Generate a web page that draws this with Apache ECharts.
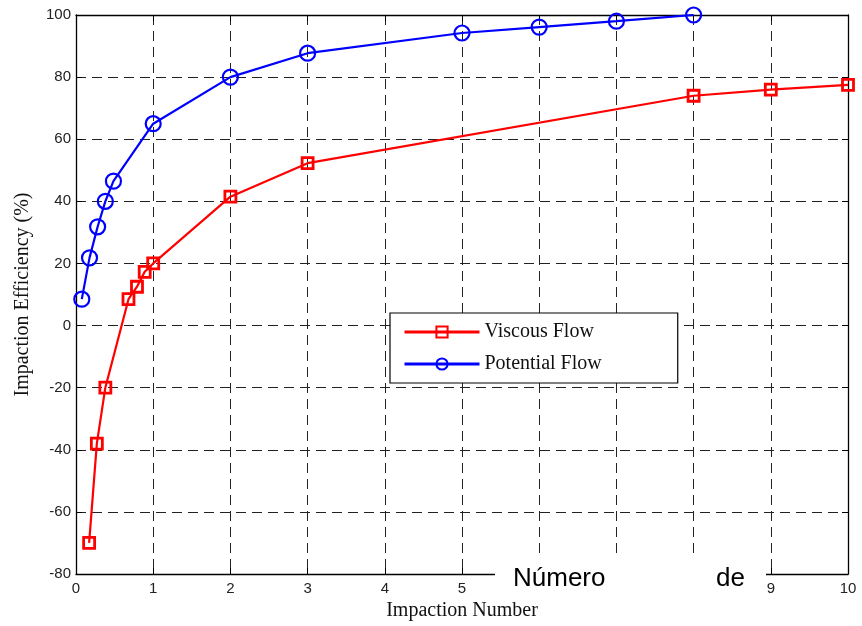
<!DOCTYPE html>
<html>
<head>
<meta charset="utf-8">
<script src="https://cdn.jsdelivr.net/npm/echarts@6/dist/echarts.min.js"></script>
<style>html,body{margin:0;padding:0;background:#fff;}#c{width:862px;height:626px;}</style>
</head>
<body>
<div id="c"></div>
<script>
var viscousX = [0.17, 0.27, 0.38, 0.68, 0.79, 0.89, 1, 2, 3, 8, 9, 10];
var viscousY = [-70, -38, -20, 8.5, 12.5, 17.3, 20, 41.5, 52.3, 74, 76, 77.5];
var potentialX = [0.075, 0.175, 0.28, 0.38, 0.485, 1, 2, 3, 5, 6, 7, 8];
var potentialY = [8.5, 21.8, 31.8, 40, 46.5, 65, 80, 87.7, 94.2, 96.1, 98, 100];
var seriesNames = ['Viscous Flow', 'Potential Flow'];
var xName = 'Impaction Number';
var yName = 'Impaction Efficiency (%)';
var overlayWords = ['Número', 'de'];

function pairs(xs, ys) { return xs.map(function (x, i) { return [x, ys[i]]; }); }

var chart = echarts.init(document.getElementById('c'), null, { renderer: 'canvas' });
var tickFont = { fontFamily: 'Liberation Sans', fontSize: 15, color: '#222' };
var grid = { type: [10, 6], color: '#222', width: 1 };
chart.setOption({
  animation: false,
  backgroundColor: '#fff',
  grid: { left: 76, right: 14, top: 15, bottom: 51, show: false },
  xAxis: [{
    type: 'value', min: 0, max: 10, interval: 1,
    name: xName, nameLocation: 'middle', nameGap: 27,
    nameTextStyle: { fontFamily: 'Liberation Serif', fontSize: 20, color: '#111' },
    axisLine: { show: true, onZero: false, lineStyle: { color: '#000', width: 1.3 } },
    axisTick: { show: true, inside: true, length: 6, lineStyle: { color: '#000' } },
    axisLabel: Object.assign({ margin: 7 }, tickFont),
    splitLine: { show: true, lineStyle: grid }
  }, {
    type: 'value', min: 0, max: 10, interval: 1, position: 'top',
    axisLine: { show: true, onZero: false, lineStyle: { color: '#000', width: 1.3 } },
    axisTick: { show: true, inside: true, length: 6, lineStyle: { color: '#000' } },
    axisLabel: { show: false }, splitLine: { show: false }
  }],
  yAxis: [{
    type: 'value', min: -80, max: 100, interval: 20,
    name: yName, nameLocation: 'middle', nameGap: 43,
    nameTextStyle: { fontFamily: 'Liberation Serif', fontSize: 20, color: '#111' },
    axisLine: { show: true, onZero: false, lineStyle: { color: '#000', width: 1.3 } },
    axisTick: { show: true, inside: true, length: 6, lineStyle: { color: '#000' } },
    axisLabel: Object.assign({ margin: 5 }, tickFont),
    splitLine: { show: true, lineStyle: grid }
  }, {
    type: 'value', min: -80, max: 100, interval: 20, position: 'right',
    axisLine: { show: true, onZero: false, lineStyle: { color: '#000', width: 1.3 } },
    axisTick: { show: true, inside: true, length: 6, lineStyle: { color: '#000' } },
    axisLabel: { show: false }, splitLine: { show: false }
  }],
  legend: {
    orient: 'vertical', left: 390, top: 313,
    itemWidth: 75, itemHeight: 14, itemGap: 12, itemTextGap: 8,
    padding: [9, 76, 9, 13],
    backgroundColor: '#fff', borderColor: '#000', borderWidth: 1.2, borderRadius: 0,
    lineStyle: { width: 3 },
    textStyle: { fontFamily: 'Liberation Serif', fontSize: 20, color: '#111' },
    data: seriesNames
  },
  series: [{
    name: seriesNames[0], type: 'line', data: pairs(viscousX, viscousY),
    symbol: 'rect', symbolSize: 11, showAllSymbol: true,
    lineStyle: { color: '#ff0000', width: 2.2 },
    itemStyle: { color: 'rgba(255,255,255,0)', borderColor: '#ff0000', borderWidth: 2.8 },
    z: 3
  }, {
    name: seriesNames[1], type: 'line', data: pairs(potentialX, potentialY),
    symbol: 'circle', symbolSize: 15, showAllSymbol: true,
    lineStyle: { color: '#0000ff', width: 2.2 },
    itemStyle: { color: 'rgba(255,255,255,0)', borderColor: '#0000ff', borderWidth: 2.2 },
    z: 3
  }],
  graphic: [{
    type: 'rect', z: 100, shape: { x: 495, y: 555, width: 271, height: 46 },
    style: { fill: '#fff' }
  }, {
    type: 'text', z: 101, x: 513, y: 566,
    style: { text: overlayWords[0], font: '26px "Liberation Sans"', fill: '#000' }
  }, {
    type: 'text', z: 101, x: 716, y: 566,
    style: { text: overlayWords[1], font: '26px "Liberation Sans"', fill: '#000' }
  }]
});
</script>
</body>
</html>
